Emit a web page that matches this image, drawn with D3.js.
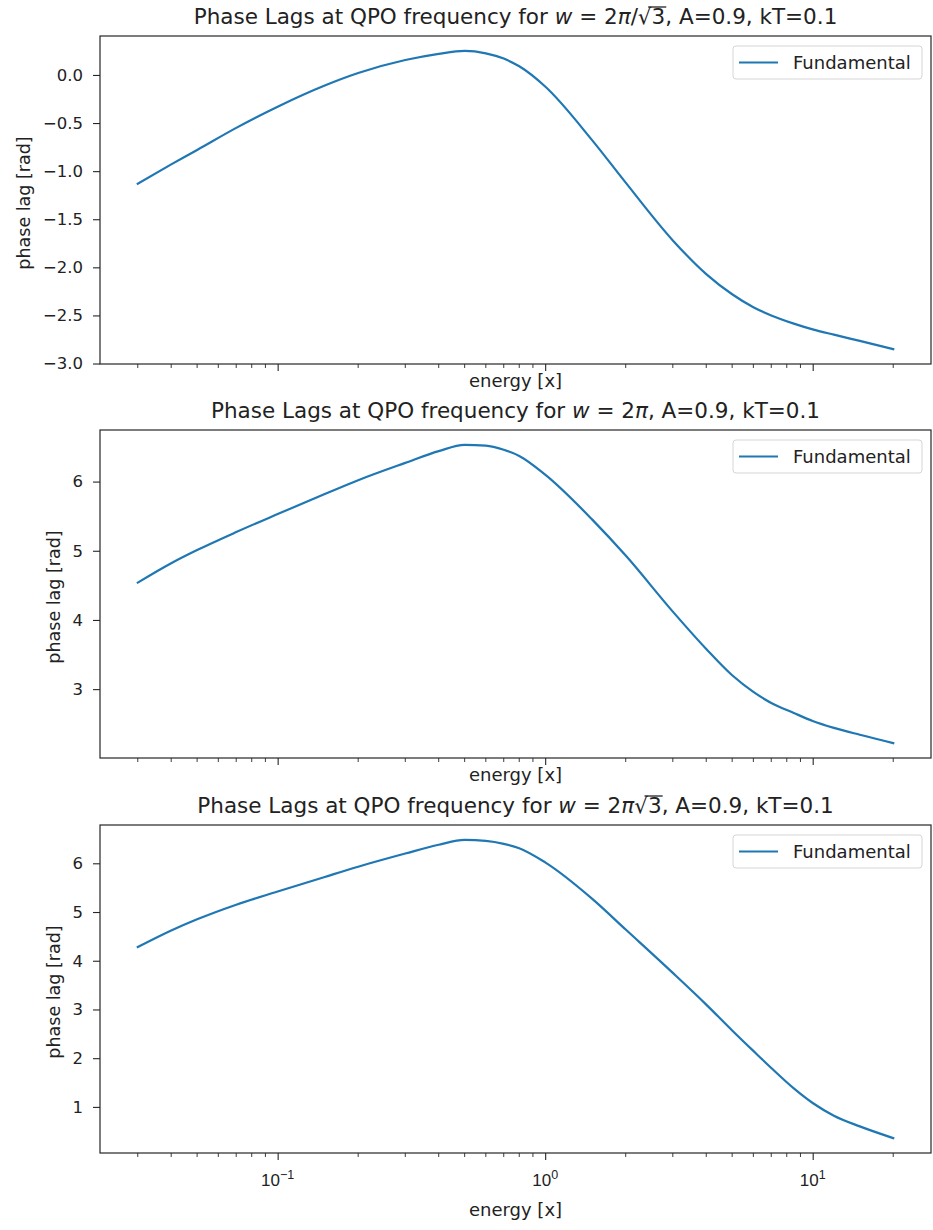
<!DOCTYPE html>
<html>
<head>
<meta charset="utf-8">
<script src="https://cdn.jsdelivr.net/npm/d3@7"></script>
<style>
  html, body { margin: 0; padding: 0; background: #fff; }
  svg { display: block; font-family: "DejaVu Sans", sans-serif; }
</style>
</head>
<body>
<svg id="chart" width="933" height="1230"></svg>
<script>
// Photon energies (log-spaced samples)
const energy = [0.03, 0.04, 0.05, 0.07, 0.1, 0.15, 0.2, 0.3, 0.4, 0.5, 0.6, 0.7, 0.8, 1.0, 1.5, 2, 3, 4, 5, 6, 7, 8.5, 10, 12, 15, 20];

// Phase lag of the fundamental for the three QPO frequencies
const lagLow  = [-1.13, -0.93, -0.78, -0.55, -0.33, -0.11, 0.02, 0.155, 0.22, 0.25, 0.225, 0.17, 0.09, -0.12, -0.68, -1.12, -1.72, -2.07, -2.28, -2.415, -2.50, -2.585, -2.645, -2.70, -2.765, -2.85];
const lagMid  = [4.54, 4.82, 5.01, 5.27, 5.53, 5.82, 6.02, 6.27, 6.44, 6.53, 6.52, 6.46, 6.37, 6.10, 5.45, 4.93, 4.12, 3.58, 3.20, 2.96, 2.80, 2.655, 2.54, 2.44, 2.34, 2.22];
const lagHigh = [4.28, 4.62, 4.85, 5.15, 5.42, 5.72, 5.93, 6.20, 6.38, 6.48, 6.46, 6.40, 6.31, 6.02, 5.27, 4.64, 3.75, 3.10, 2.57, 2.15, 1.80, 1.38, 1.08, 0.82, 0.60, 0.36];

// Y tick values per panel
const yTicksLow  = [0.0, -0.5, -1.0, -1.5, -2.0, -2.5, -3.0];
const yTicksMid  = [3, 4, 5, 6];
const yTicksHigh = [1, 2, 3, 4, 5, 6];

// X tick labels (base 10, exponent)
const xTickValues = [0.1, 1, 10];
const xTickExps   = ["\u22121", "0", "1"];

// Title pieces: [text, italic?, radicand?]
const titleParts = [
  [["Phase Lags at QPO frequency for ", false], ["w", true], [" = 2", false], ["\u03c0", true], ["/\u221a", false], ["3", false, "bar"], [", A=0.9, kT=0.1", false]],
  [["Phase Lags at QPO frequency for ", false], ["w", true], [" = 2", false], ["\u03c0", true], [", A=0.9, kT=0.1", false]],
  [["Phase Lags at QPO frequency for ", false], ["w", true], [" = 2", false], ["\u03c0", true], ["\u221a", false], ["3", false, "bar"], [", A=0.9, kT=0.1", false]]
];

const legendLabel = "Fundamental";
const xLabel = "energy [x]";
const yLabel = "phase lag [rad]";

const panels = [
  { values: lagLow,  ticks: yTicksLow,  fmt: d => d3.format(".1f")(d).replace("-", "\u2212"), showX: false },
  { values: lagMid,  ticks: yTicksMid,  fmt: d => String(d), showX: false },
  { values: lagHigh, ticks: yTicksHigh, fmt: d => String(d), showX: true }
];

const left = 100, right = 931;
const tops = [36, 430, 825];
const ph = 328;
const lineColor = "#1f77b4";
const axisColor = "#262626";
const textColor = "#222";

const svg = d3.select("#chart");

// log x-domain with 5% margins in log space
const lx0 = Math.log10(d3.min(energy)), lx1 = Math.log10(d3.max(energy));
const lpad = (lx1 - lx0) * 0.05;
const x = d3.scaleLog().domain([Math.pow(10, lx0 - lpad), Math.pow(10, lx1 + lpad)]).range([left, right]);

// minor ticks at 2..9 x 10^k
const minorTicks = [];
for (let k = -3; k <= 2; k++) for (let m = 2; m <= 9; m++) {
  const v = m * Math.pow(10, k);
  if (v >= x.domain()[0] && v <= x.domain()[1]) minorTicks.push(v);
}

panels.forEach((p, i) => {
  const top = tops[i], bottom = top + ph;
  const ymin = d3.min(p.values), ymax = d3.max(p.values);
  const pad = (ymax - ymin) * 0.05;
  const y = d3.scaleLinear().domain([ymin - pad, ymax + pad]).range([bottom, top]);

  const g = svg.append("g");

  // curve
  const line = d3.line()
    .x((d, j) => x(energy[j]))
    .y(d => y(d))
    .curve(d3.curveMonotoneX);
  g.append("path")
    .datum(p.values)
    .attr("d", line)
    .attr("fill", "none")
    .attr("stroke", lineColor)
    .attr("stroke-width", 2.2)
    .attr("stroke-linecap", "square");

  // y axis
  const yAxis = d3.axisLeft(y).tickValues(p.ticks).tickFormat(p.fmt).tickSizeOuter(0).tickSize(7).tickPadding(10);
  const ya = g.append("g").attr("transform", `translate(${left},0)`).call(yAxis);
  ya.select(".domain").remove();
  ya.selectAll("line").attr("stroke", axisColor).attr("stroke-width", 1.1);
  ya.selectAll("text").attr("font-size", 16.5).attr("fill", textColor).attr("font-family", "DejaVu Sans");

  // x axis major ticks
  const xAxis = d3.axisBottom(x).tickValues(xTickValues).tickFormat("").tickSizeOuter(0).tickSize(7);
  const xa = g.append("g").attr("transform", `translate(0,${bottom})`).call(xAxis);
  xa.select(".domain").remove();
  xa.selectAll("line").attr("stroke", axisColor).attr("stroke-width", 1.1);
  // minor ticks
  xa.selectAll(".minor").data(minorTicks).enter().append("line")
    .attr("x1", d => x(d)).attr("x2", d => x(d))
    .attr("y1", 0).attr("y2", 4)
    .attr("stroke", axisColor).attr("stroke-width", 0.9);

  if (p.showX) {
    xTickValues.forEach((v, j) => {
      const t = xa.append("text")
        .attr("x", x(v)).attr("y", 33)
        .attr("text-anchor", "middle")
        .attr("font-size", 17).attr("fill", textColor);
      t.append("tspan").text("10");
      t.append("tspan").attr("dy", -7.5).attr("font-size", 12.5).text(xTickExps[j]);
    });
  }

  // frame
  g.append("rect")
    .attr("x", left).attr("y", top)
    .attr("width", right - left).attr("height", ph)
    .attr("fill", "none").attr("stroke", axisColor).attr("stroke-width", 1.2);

  // x label
  g.append("text")
    .attr("x", (left + right) / 2)
    .attr("y", bottom + (p.showX ? 63 : 23))
    .attr("text-anchor", "middle")
    .attr("font-size", 18).attr("fill", textColor)
    .text(xLabel);

  // y label, placed left of the tick labels
  let minX = Infinity;
  ya.selectAll("text").each(function () {
    const b = this.getBBox();
    minX = Math.min(minX, left + b.x);
  });
  g.append("text")
    .attr("transform", `translate(${minX - 13},${top + ph / 2 + 3}) rotate(-90)`)
    .attr("text-anchor", "middle")
    .attr("font-size", 17.5).attr("fill", textColor)
    .text(yLabel);

  // title with math pieces
  const title = g.append("text")
    .attr("x", (left + right) / 2)
    .attr("y", top - 12)
    .attr("text-anchor", "middle")
    .attr("font-size", 21.5).attr("fill", textColor);
  let idx = 0, barRange = null;
  titleParts[i].forEach(([s, it, bar]) => {
    title.append("tspan").attr("font-style", it ? "italic" : null).text(s);
    if (bar) barRange = [idx, idx + s.length - 1];
    idx += s.length;
  });
  if (barRange) {
    const node = title.node();
    // radical bar over the radicand
    const a = node.getExtentOfChar(barRange[0] - 1);
    const b = node.getExtentOfChar(barRange[1]);
    g.append("line")
      .attr("x1", a.x + a.width * 0.75).attr("x2", b.x + b.width + 1)
      .attr("y1", a.y + 3).attr("y2", a.y + 3)
      .attr("stroke", textColor).attr("stroke-width", 1.3);
  }

  // legend
  const lx = 733, lw = 189, lh = 33;
  const ly = top + 10;
  const lg = g.append("g");
  lg.append("rect")
    .attr("x", lx).attr("y", ly).attr("width", lw).attr("height", lh)
    .attr("rx", 3).attr("fill", "#fff").attr("fill-opacity", 0.8)
    .attr("stroke", "#d5d5d5").attr("stroke-width", 1);
  lg.append("line")
    .attr("x1", lx + 6).attr("x2", lx + 45)
    .attr("y1", ly + lh / 2).attr("y2", ly + lh / 2)
    .attr("stroke", lineColor).attr("stroke-width", 2.2);
  lg.append("text")
    .attr("x", lx + 60).attr("y", ly + lh / 2 + 6.5)
    .attr("font-size", 18).attr("fill", textColor)
    .text(legendLabel);
});
</script>
</body>
</html>
